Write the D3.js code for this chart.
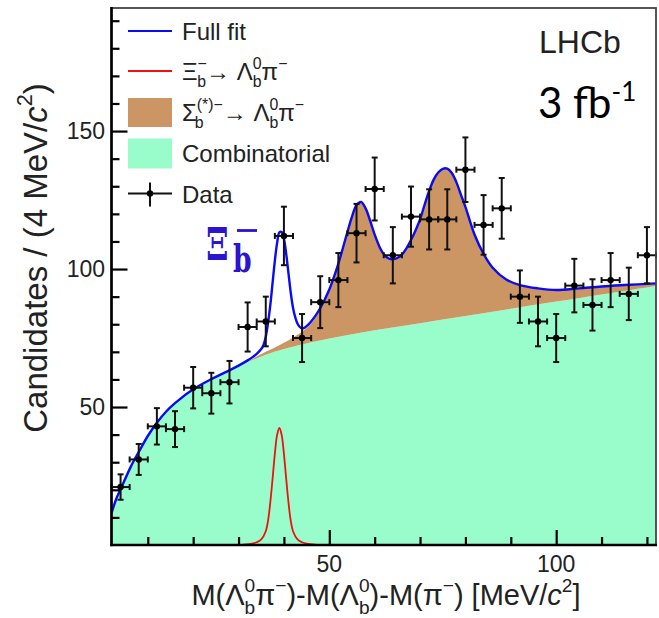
<!DOCTYPE html>
<html>
<head>
<meta charset="utf-8">
<script src="https://cdn.jsdelivr.net/npm/d3@7/dist/d3.min.js"></script>
<style>
  html, body { margin: 0; padding: 0; background: #fff; }
  svg { display: block; }
  text { font-family: "Liberation Sans", Arial, Helvetica, sans-serif; fill: #222; }
</style>
</head>
<body>
<svg id="chart" width="659" height="618"></svg>
<script>
// ---------------- data ----------------
const dataX = [4, 8, 12, 16, 20, 24, 28, 32, 36, 40, 44, 48, 52, 56, 60, 64, 68, 72, 76, 80, 84, 88, 92, 96, 100, 104, 108, 112, 116, 120];
const dataY = [21, 31, 43, 42, 57, 55, 59, 79, 81, 112, 75, 88, 96, 113, 129, 105, 119, 118, 118, 136, 116, 122, 90, 81, 75, 94, 87, 96, 91, 105];
const dataErr = [4.6, 5.6, 6.6, 6.5, 7.5, 7.4, 7.7, 8.9, 9.0, 10.6, 8.7, 9.4, 9.8, 10.6, 11.4, 10.2, 10.9, 10.9, 10.9, 11.7, 10.8, 11.0, 9.5, 9.0, 8.7, 9.7, 9.3, 9.8, 9.5, 10.2];
const binHalf = 2;

// combinatorial background curve
const combX = [2, 3, 4, 6, 7, 8, 10, 12, 14, 16, 20, 24, 28, 32, 36, 40, 50, 60, 70, 80, 90, 100, 110, 122];
const combY = [11.5, 16.5, 20.2, 27.5, 30.8, 33.7, 39.5, 44.3, 48.3, 51.4, 56.4, 60.1, 63.3, 66.3, 68.9, 71.0, 74.8, 77.8, 80.4, 83.0, 85.6, 88.2, 90.8, 93.9];

// top of the Sigma_b component (stacked on combinatorial)
const sigX = [28, 32, 36, 40, 44, 46, 48, 50, 52, 54, 55, 56, 57, 58, 59, 60, 61, 62, 63, 64, 65, 66, 67, 68, 69, 70, 71, 72, 73, 74, 75, 76, 77, 78, 79, 80, 82, 84, 86, 89, 92, 96, 100, 105, 110, 115, 122];
const sigY = [63.3, 66.6, 70.0, 73.3, 77.3, 80.3, 85.5, 92.5, 102, 113.5, 119, 123.2, 124.3, 122, 117.5, 112.5, 108.3, 105.4, 103.9, 103.5, 104, 105.2, 107.5, 110.5, 114, 118, 123.3, 128.3, 132.4, 135, 136.3, 136.4, 134.8, 131.5, 127, 122.5, 112.5, 105.5, 100.5, 96.2, 94.2, 93, 92.4, 93, 93.7, 94.2, 94.8];

// full fit
const fullX = [2, 3, 4, 6, 7, 8, 10, 12, 14, 16, 20, 24, 28, 30, 32, 33, 34, 35, 35.5, 36, 36.5, 37, 37.5, 38, 38.5, 39, 39.5, 40, 40.5, 41, 41.5, 42, 42.5, 43, 43.5, 44, 44.5, 45, 46, 48, 50, 52, 54, 55, 56, 57, 58, 59, 60, 61, 62, 63, 64, 65, 66, 67, 68, 69, 70, 71, 72, 73, 74, 75, 76, 77, 78, 79, 80, 82, 84, 86, 89, 92, 96, 100, 105, 110, 115, 122];
const fullY = [11.5, 16.5, 20.2, 27.5, 30.8, 33.7, 39.5, 44.3, 48.3, 51.4, 56.4, 60.1, 63.3, 65, 66.9, 68, 69.3, 71, 72.5, 75.5, 80.5, 87, 95, 103, 109.5, 113.3, 113.4, 111, 105.5, 98.5, 91.5, 86, 82.5, 80.2, 79, 78.5, 78.7, 79.3, 81, 85.8, 92.6, 102, 113.5, 119, 123.2, 124.3, 122, 117.5, 112.5, 108.3, 105.4, 103.9, 103.5, 104, 105.2, 107.5, 110.5, 114, 118, 123.3, 128.3, 132.4, 135, 136.3, 136.4, 134.8, 131.5, 127, 122.5, 112.5, 105.5, 100.5, 96.2, 94.2, 93, 92.4, 93, 93.7, 94.2, 94.8];

// Xi_b- signal component
const xiX = [31, 33, 34, 35, 36, 36.5, 37, 37.5, 38, 38.5, 39, 39.5, 40, 40.5, 41, 41.5, 42, 43, 44, 45, 47];
const xiY = [0.1, 0.5, 1, 2, 5, 8.8, 15.5, 24, 33, 39.9, 42.4, 39.9, 33, 24, 15.5, 8.8, 5, 2, 1, 0.5, 0.1];

const xTicksMajor = [50, 100];
const xTicksMinor = [10, 20, 30, 40, 60, 70, 80, 90, 110, 120];
const yTicksMajor = [50, 100, 150];
const yTicksMinor = [10, 20, 30, 40, 60, 70, 80, 90, 110, 120, 130, 140, 160, 170, 180, 190];

// ---------------- layout ----------------
const svg = d3.select("#chart");
const L = 111.5, R = 656, T = 8, B = 545;
const x = d3.scaleLinear().domain([2, 122]).range([L, R]);
const y = d3.scaleLinear().domain([0, 194.6]).range([B, T]);

const COL_COMB = "#99fdcb";
const COL_SIG = "#cb9664";
const COL_FULL = "#0a0af5";
const COL_XI = "#f01010";

svg.append("defs").append("clipPath").attr("id", "clip")
  .append("rect").attr("x", L).attr("y", T).attr("width", R - L).attr("height", B - T);

const plot = svg.append("g").attr("clip-path", "url(#clip)");

const zip = (xs, ys) => xs.map((v, i) => [v, ys[i]]);
const curve = d3.curveCatmullRom.alpha(0.5);

// combinatorial area
plot.append("path")
  .datum(zip(combX, combY))
  .attr("fill", COL_COMB)
  .attr("d", d3.area().x(d => x(d[0])).y0(y(0)).y1(d => y(d[1])).curve(curve));

// Sigma area: between comb and sigma top
const combSub = zip(combX, combY).filter(d => d[0] >= 28);
const topPath = d3.line().x(d => x(d[0])).y(d => y(d[1])).curve(curve)(zip(sigX, sigY));
const botPath = d3.line().x(d => x(d[0])).y(d => y(d[1])).curve(curve)(combSub.slice().reverse());
plot.append("path")
  .attr("fill", COL_SIG)
  .attr("d", topPath + "L" + botPath.slice(1) + "Z");

// Xi component
plot.append("path")
  .datum(zip(xiX, xiY))
  .attr("fill", "none")
  .attr("stroke", COL_XI)
  .attr("stroke-width", 1.8)
  .attr("d", d3.line().x(d => x(d[0])).y(d => y(d[1])).curve(curve));

// full fit
plot.append("path")
  .datum(zip(fullX, fullY))
  .attr("fill", "none")
  .attr("stroke", COL_FULL)
  .attr("stroke-width", 2.4)
  .attr("d", d3.line().x(d => x(d[0])).y(d => y(d[1])).curve(curve));

// data points
const pts = svg.append("g").attr("stroke", "#111").attr("stroke-width", 2);
dataX.forEach((xv, i) => {
  const cx = x(xv), cy = y(dataY[i]);
  const yt = y(dataY[i] + dataErr[i]), yb = y(dataY[i] - dataErr[i]);
  const xl = x(xv - binHalf), xr = x(xv + binHalf);
  pts.append("line").attr("x1", cx).attr("x2", cx).attr("y1", yt).attr("y2", yb);
  pts.append("line").attr("x1", xl).attr("x2", xr).attr("y1", cy).attr("y2", cy);
  pts.append("line").attr("x1", cx - 3).attr("x2", cx + 3).attr("y1", yt).attr("y2", yt);
  pts.append("line").attr("x1", cx - 3).attr("x2", cx + 3).attr("y1", yb).attr("y2", yb);
  pts.append("line").attr("x1", xl).attr("x2", xl).attr("y1", cy - 3).attr("y2", cy + 3);
  pts.append("line").attr("x1", xr).attr("x2", xr).attr("y1", cy - 3).attr("y2", cy + 3);
  svg.append("circle").attr("cx", cx).attr("cy", cy).attr("r", 3.2).attr("fill", "#000");
});

// frame
svg.append("rect").attr("x", L).attr("y", T).attr("width", R - L).attr("height", B - T)
  .attr("fill", "none").attr("stroke", "#444").attr("stroke-width", 1.8);

// axes
const yAxisMajor = d3.axisRight(y).tickValues(yTicksMajor).tickSize(16).tickFormat("");
const yAxisMinor = d3.axisRight(y).tickValues(yTicksMinor).tickSize(8).tickFormat("");
const xAxisMajor = d3.axisTop(x).tickValues(xTicksMajor).tickSize(15).tickFormat("");
const xAxisMinor = d3.axisTop(x).tickValues(xTicksMinor).tickSize(8).tickFormat("");
[yAxisMajor, yAxisMinor].forEach(a => {
  const g = svg.append("g").attr("transform", `translate(${L},0)`).call(a);
  g.select(".domain").remove();
  g.selectAll("line").attr("stroke", "#000").attr("stroke-width", 2.2);
});
[xAxisMajor, xAxisMinor].forEach(a => {
  const g = svg.append("g").attr("transform", `translate(0,${B})`).call(a);
  g.select(".domain").remove();
  g.selectAll("line").attr("stroke", "#000").attr("stroke-width", 2.2);
});
svg.append("line").attr("x1", L).attr("x2", L).attr("y1", T - 1).attr("y2", B + 1.2).attr("stroke", "#000").attr("stroke-width", 2.6);
svg.append("line").attr("x1", L - 1.2).attr("x2", R + 1).attr("y1", B).attr("y2", B).attr("stroke", "#000").attr("stroke-width", 2.6);

// tick labels
yTicksMajor.forEach(v => {
  svg.append("text").attr("x", 105).attr("y", y(v) + 8).attr("text-anchor", "end")
    .attr("font-size", 23).text(v);
});
xTicksMajor.forEach(v => {
  svg.append("text").attr("x", x(v)).attr("y", 572).attr("text-anchor", "middle")
    .attr("font-size", 23).text(v);
});

// rich text helper
function rich(textSel, segs, fs) {
  let cur = 0;
  segs.forEach(s => {
    let target = 0, size = fs;
    if (s.lvl === "sup") { target = -0.44 * fs; size = fs * 0.66; }
    if (s.lvl === "sub") { target = 0.3 * fs; size = fs * 0.66; }
    const ts = textSel.append("tspan").attr("font-size", size).text(s.t);
    if (target !== cur) ts.attr("dy", target - cur);
    if (s.dx) ts.attr("dx", s.dx * fs);
    if (s.italic) ts.attr("font-style", "italic");
    cur = target;
  });
}
const STACK = -0.367; // move back by width of a script "0"

// axis titles
const xt = svg.append("text").attr("x", 386).attr("y", 605).attr("text-anchor", "middle").attr("font-size", 29);
rich(xt, [
  {t: "M(Λ"}, {t: "0", lvl: "sup"}, {t: "b", lvl: "sub", dx: STACK}, {t: "π"}, {t: "−", lvl: "sup"},
  {t: ")-M(Λ"}, {t: "0", lvl: "sup"}, {t: "b", lvl: "sub", dx: STACK}, {t: ")-M(π"}, {t: "−", lvl: "sup"},
  {t: ") [MeV/"}, {t: "c", italic: true}, {t: "2", lvl: "sup"}, {t: "]"}
], 29);

const yt = svg.append("text").attr("transform", "translate(47,258) rotate(-90)")
  .attr("text-anchor", "middle").attr("font-size", 33);
rich(yt, [
  {t: "Candidates / (4 MeV/"}, {t: "c", italic: true}, {t: "2", lvl: "sup"}, {t: ")"}
], 33);

// legend
const LX0 = 128, LX1 = 172, TX = 182;
svg.append("line").attr("x1", LX0).attr("x2", LX1).attr("y1", 31).attr("y2", 31).attr("stroke", COL_FULL).attr("stroke-width", 2);
svg.append("text").attr("x", TX).attr("y", 39.5).attr("font-size", 24).text("Full fit");

svg.append("line").attr("x1", LX0).attr("x2", LX1).attr("y1", 71).attr("y2", 71).attr("stroke", COL_XI).attr("stroke-width", 2);
const l2 = svg.append("text").attr("x", TX).attr("y", 80).attr("font-size", 24);
rich(l2, [
  {t: "Ξ"}, {t: "−", lvl: "sup"}, {t: "b", lvl: "sub", dx: -0.4}, {t: "→ Λ"}, {t: "0", lvl: "sup"}, {t: "b", lvl: "sub", dx: STACK}, {t: "π"}, {t: "−", lvl: "sup"}
], 24);

svg.append("rect").attr("x", LX0).attr("y", 98).attr("width", LX1 - LX0).attr("height", 29).attr("fill", COL_SIG);
const l3 = svg.append("text").attr("x", TX).attr("y", 121).attr("font-size", 24);
rich(l3, [
  {t: "Σ"}, {t: "(*)−", lvl: "sup"}, {t: "b", lvl: "sub", dx: -1.17}, {t: "→ Λ", dx: 0.8}, {t: "0", lvl: "sup"}, {t: "b", lvl: "sub", dx: STACK}, {t: "π"}, {t: "−", lvl: "sup"}
], 24);

svg.append("rect").attr("x", LX0).attr("y", 138.5).attr("width", LX1 - LX0).attr("height", 30).attr("fill", COL_COMB);
svg.append("text").attr("x", TX).attr("y", 161.5).attr("font-size", 24).text("Combinatorial");

svg.append("line").attr("x1", LX0).attr("x2", LX1).attr("y1", 193.5).attr("y2", 193.5).attr("stroke", "#111").attr("stroke-width", 2);
svg.append("line").attr("x1", 150).attr("x2", 150).attr("y1", 182.5).attr("y2", 206.5).attr("stroke", "#111").attr("stroke-width", 2);
svg.append("circle").attr("cx", 150).attr("cy", 193.5).attr("r", 3.2).attr("fill", "#000");
svg.append("text").attr("x", TX).attr("y", 202.5).attr("font-size", 24).text("Data");

// LHCb label and luminosity
svg.append("text").attr("x", 539).attr("y", 53).attr("font-size", 32).text("LHCb");
const lum = svg.append("text").attr("x", 538).attr("y", 118).attr("font-size", 42)
  .style("font-family", "Lato, 'Open Sans', sans-serif").style("fill", "#000");
lum.append("tspan").text("3 fb");
lum.append("tspan").attr("dy", -17).attr("font-size", 26).text("-1");

// Xi_b- annotation
const XI_COL = "#2a14d0";
const XI_FONT = "'DejaVu Serif', 'Liberation Serif', serif";
const xiG = svg.append("g").attr("transform", "translate(206,260) scale(0.95,1.3)");
xiG.append("text").attr("x", 0).attr("y", 0).attr("font-size", 34)
  .style("font-family", XI_FONT).style("font-weight", "bold").style("fill", XI_COL).text("Ξ");
xiG.append("text").attr("x", 28.4).attr("y", 9.2).attr("font-size", 28)
  .style("font-family", XI_FONT).style("font-weight", "bold").style("fill", XI_COL).text("b");
svg.append("line").attr("x1", 237).attr("x2", 257).attr("y1", 230.5).attr("y2", 230.5)
  .attr("stroke", XI_COL).attr("stroke-width", 2.8);
</script>
</body>
</html>
